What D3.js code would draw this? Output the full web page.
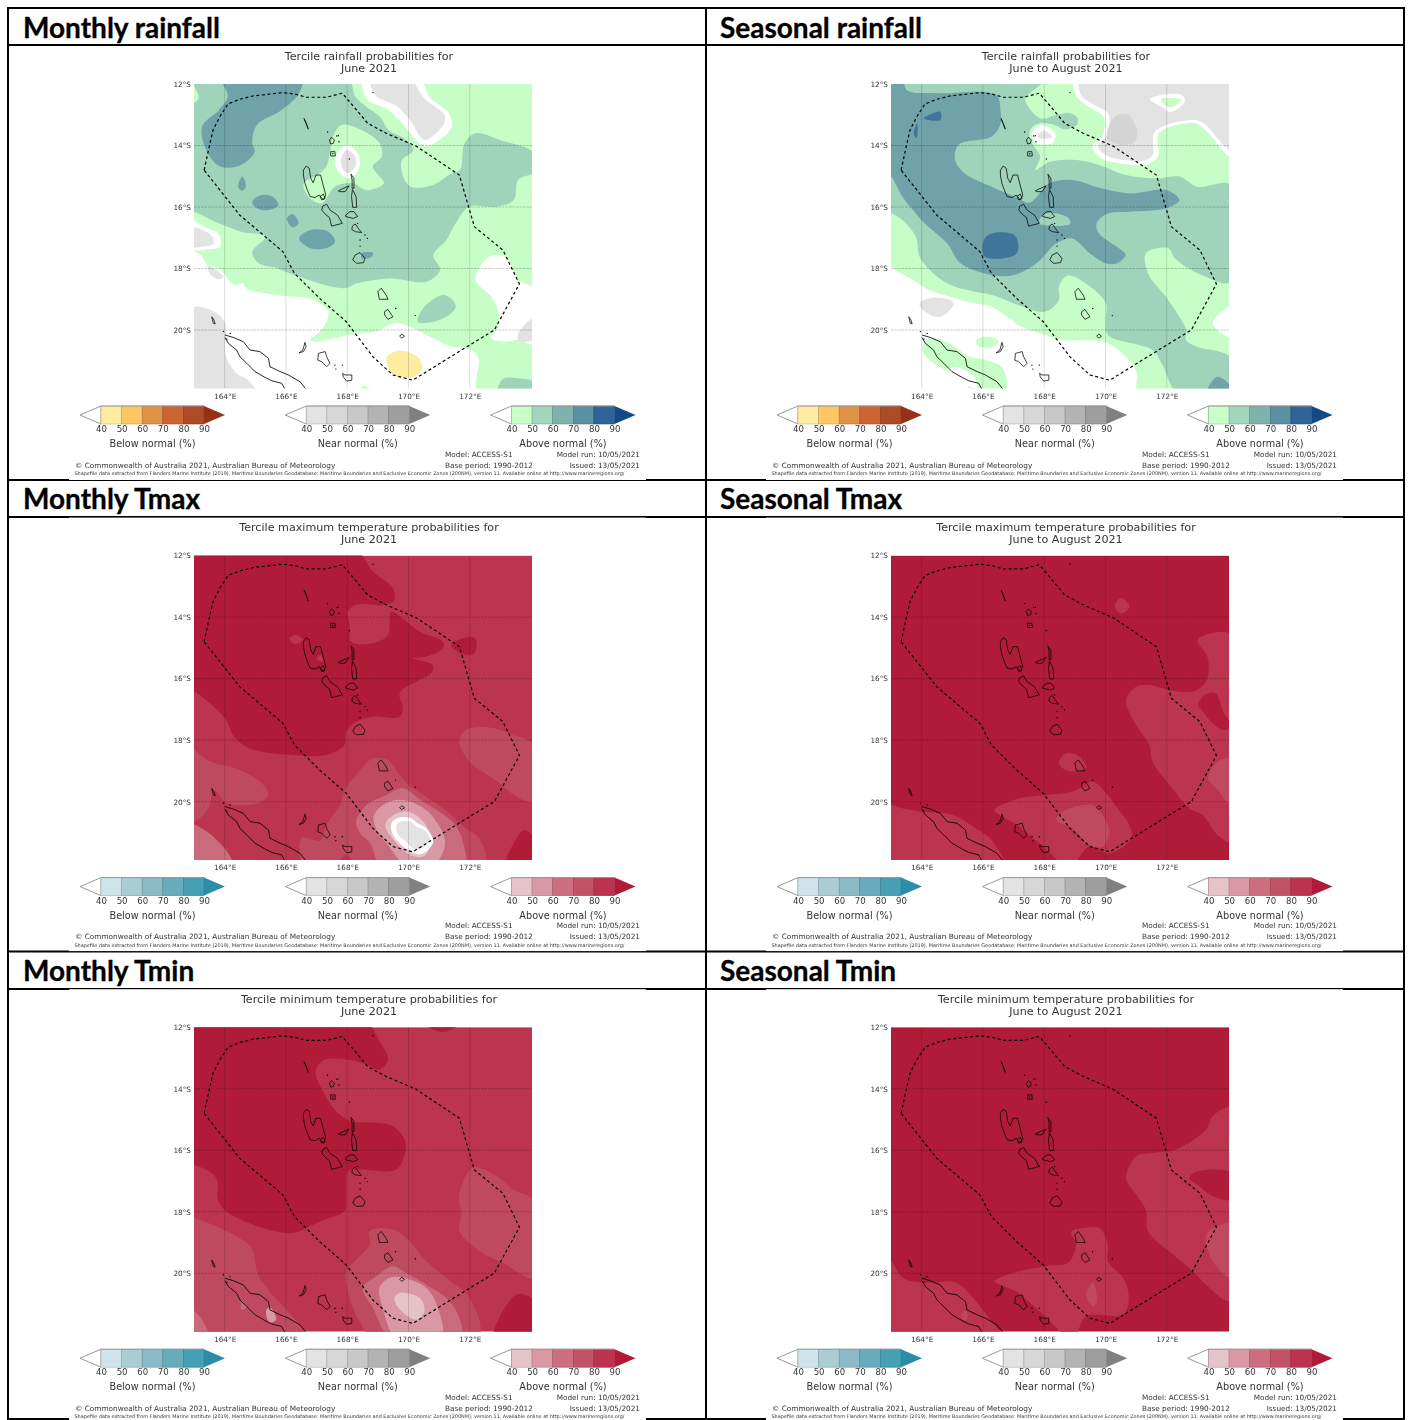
<!DOCTYPE html>
<html lang="en">
<head>
<meta charset="utf-8">
<title>Tercile probabilities for Vanuatu</title>
<script src="https://d3js.org/d3.v7.min.js"></script>
<style>
    body { margin: 0; background: #fff; }
    svg { display: block; }
    text { font-family: "DejaVu Sans", sans-serif; fill: #333; }
    .rowTitle { font-family: Lato, sans-serif; font-weight: 700; font-size: 28px; fill: #000; stroke: #000; stroke-width: 0.3px; }
    .panel { filter: blur(0.42px); }
    .axis text { font-size: 7.3px; fill: #333; }
    .cbarAxis text { font-size: 8.6px; fill: #333; }
</style>
</head>
<body>
<svg id="chart" width="1410" height="1420"></svg>
<script>
// ---- axis values
const lonTicks = [164, 166, 168, 170, 172];
const latTicks = [12, 14, 16, 18, 20];
const cbarTicks = [40, 50, 60, 70, 80, 90];

// ---- colour bar steps
const barBelowRain = ["#feeda0", "#fdc766", "#e09345", "#cc6433", "#ae4a26", "#953019"];
const barBelowTemp = ["#cfe4ea", "#a9cdd3", "#8bbac6", "#68abbc", "#45a0b4", "#2b8ea6"];
const barNear = ["#e3e3e3", "#d7d7d7", "#c8c8c8", "#b3b3b3", "#9e9e9e", "#808080"];
const barAboveRain = ["#c8fec8", "#a2d6bc", "#7fb2ad", "#5a90a2", "#2f6497", "#124a85"];
const barAboveTemp = ["#e6c2c9", "#da97a4", "#cd6e7f", "#c25266", "#bb334d", "#b01c38"];

// ---- map fill for each probability band
const bandColor = {
    none: "#ffffff", b40: "#fdeba0", n40: "#e3e3e3", n50: "#d4d4d4",
    a40: "#c7fdc7", a50: "#9fd3ba", a60: "#6fa3a9", a70: "#40769b",
    r40: "#e6c2c9", r50: "#da97a4", r60: "#c96b7c", r70: "#bf4a60", r80: "#bb354e", r90: "#b01c38"
};

// ---- contour regions: [band, [[lon, lat south], ...]], painted in order
const monthlyRain = [
    ["a40", [[162.9,11.9],[174.1,11.9],[174.1,22],[172.27,22],[172.27,20.87],[171.83,20.56],[171.39,20.54],[170.81,20.27],[169.64,19.78],[168.91,20.05],[168.04,20.16],[167.02,20.38],[166.8,20.32],[167.16,20],[167.38,19.4],[166.87,19.02],[165.71,18.86],[164.69,18.64],[164.61,18.48],[164.32,18.54],[163.81,17.99],[163.45,17.89],[163.23,17.56],[163,17.45],[162.9,17.45]]],
    ["a40", [[168.33,22],[168.55,21.82],[168.84,22]]],
    ["a50", [[162.9,12.74],[163.15,12.47],[163.03,11.9],[168.04,11.9],[168.26,12.41],[168.62,12.74],[169.06,13.06],[169.35,13.5],[169.86,13.77],[170.15,14.15],[169.79,14.47],[169.79,14.91],[170.08,15.34],[170.81,15.28],[171.39,14.91],[171.68,14.8],[171.83,13.93],[172.19,13.6],[172.99,13.82],[174.1,14.25],[174.1,14.85],[173.58,15.12],[173.43,15.77],[172.85,15.99],[171.97,15.99],[171.54,16.53],[171.24,17.07],[170.81,17.56],[171.03,18.05],[170.59,18.43],[169.35,18.32],[168.33,18.48],[167.89,18.64],[166.43,18.27],[165.71,17.99],[165.12,17.83],[164.9,17.45],[165.34,16.96],[164.54,16.8],[163.81,16.53],[163,16.15],[162.9,16.15]]],
    ["a50", [[170.3,19.73],[170.52,19.24],[171.17,18.86],[171.54,19.19],[171.39,19.46],[170.81,19.73]]],
    ["a50", [[172.92,22.1],[173.07,21.6],[173.58,21.57],[174.1,21.7],[174.1,22.1]]],
    ["a40", [[167.82,13.33],[168.48,13.5],[169.06,13.93],[169.13,14.36],[168.84,14.69],[169.2,15.23],[168.62,15.45],[168.18,15.23],[167.6,15.34],[167.16,15.88],[166.73,15.66],[166.58,15.23],[167.02,14.96],[167.31,14.69],[167.45,14.15],[167.53,13.71]]],
    ["none", [[168.01,13.98],[168.37,14.31],[168.37,14.8],[168.04,15.07],[167.64,14.74],[167.64,14.31]]],
    ["n40", [[167.99,14.15],[168.26,14.36],[168.26,14.69],[168.01,14.9],[167.82,14.69],[167.82,14.36]]],
    ["none", [[168.55,11.8],[168.62,12.47],[169.35,12.85],[169.79,13.28],[170.44,13.98],[170.73,13.98],[171.39,13.44],[171.32,12.95],[170.73,12.47],[170.3,11.8]]],
    ["n40", [[168.77,11.8],[168.91,12.36],[169.64,12.74],[170.08,13.22],[170.52,13.82],[171.17,13.28],[171.17,13],[170.52,12.47],[170,11.8]]],
    ["none", [[162.9,16.45],[163.37,16.66],[163.81,16.9],[163.85,17.29],[163.37,17.38],[162.9,17.38]]],
    ["n40", [[162.9,16.68],[163.4,16.8],[163.62,17],[163.62,17.2],[163.3,17.28],[162.9,17.28]]],
    ["n40", [[163.45,17.9],[163.96,18.27],[163.8,18.35],[163.5,18.15]]],
    ["none", [[174.1,18.65],[173.58,18.37],[173.21,17.67],[172.78,17.56],[172.41,17.83],[172.19,18.37],[172.7,18.92],[172.92,19.35],[172.92,19.89],[172.7,20.27],[173.14,20.38],[173.58,20.32],[174.1,20.45]]],
    ["n40", [[174.1,19.6],[173.58,20.11],[173.58,20.32],[174.1,20.32]]],
    ["n40", [[162.9,19.3],[163.5,19.33],[164,19.73],[164.03,20.81],[164.4,21.41],[164.77,21.63],[165.05,22.1],[162.9,22.1]]],
    ["a60", [[163.93,11.8],[166.51,11.8],[166.43,12.3],[165.85,12.85],[165.05,13.33],[164.9,13.93],[164.98,14.2],[164.54,14.63],[163.88,14.69],[163.45,14.25],[163.26,13.39],[163.81,12.85],[164.1,12.41]]],
    ["a60", [[164.44,15.34],[164.58,15.01],[164.69,15.34],[164.57,15.47]]],
    ["a60", [[164.9,15.83],[165.2,15.61],[165.56,15.66],[165.75,15.93],[165.41,16.1],[165.05,16.04]]],
    ["a60", [[166.03,16.37],[166.22,16.23],[166.41,16.53],[166.22,16.66]]],
    ["a60", [[166.43,17.02],[166.8,16.75],[167.38,16.8],[167.6,17.13],[167.31,17.34],[166.8,17.34]]],
    ["a60", [[168.48,17.51],[168.84,17.49],[168.8,17.62],[168.48,17.67]]],
    ["b40", [[169.28,20.92],[169.64,20.67],[170.3,20.87],[170.44,21.25],[170.15,21.52],[169.5,21.46]]]
];

const seasonalRain = [
    ["a40", [[162.9,11.8],[174.1,11.8],[174.1,22.1],[171.07,22.1],[171.03,21.41],[170.81,21.03],[170.08,20.43],[169.35,20.33],[168.62,20.33],[168.04,20.16],[167.16,19.84],[166.87,19.62],[166.29,19.24],[165.71,19.13],[165.12,18.97],[164.25,18.7],[163.81,18.43],[163.23,18.1],[163,17.94],[162.9,17.9]]],
    ["a40", [[164.01,20.6],[164.32,20.27],[164.9,20.43],[165.56,20.87],[166.14,20.98],[166.65,21.25],[166.73,22.1],[165.78,22.1],[165.27,21.57],[164.39,21.08]]],
    ["none", [[164.83,21.3],[165.12,21.21],[165.71,21.52],[165.78,21.9]]],
    ["a40", [[165.78,20.33],[166.29,20.22],[166.51,20.38],[166.29,20.56],[165.85,20.52]]],
    ["a50", [[162.9,11.8],[168.04,11.8],[167.38,12.47],[167.48,12.74],[167.89,13.12],[168.48,12.98],[168.84,12.95],[169.09,13.12],[169.06,13.33],[168.69,13.47],[168.33,13.33],[167.89,13.27],[167.57,13.44],[167.53,13.77],[167.68,14.04],[167.87,14.36],[167.71,14.8],[168.18,14.53],[169.06,14.47],[169.79,14.63],[170.66,14.96],[171.68,15.07],[172.41,15.01],[172.99,15.34],[174.1,15.28],[174.1,18.43],[173.14,18.21],[172.27,17.67],[172.05,17.34],[171.32,17.51],[171.39,18.16],[171.97,18.92],[172.41,19.57],[172.63,20],[172.63,20.33],[172.99,20.54],[174.1,20.9],[174.1,22.1],[172.41,22.1],[171.83,21.08],[171.54,20.65],[170.08,20.16],[170.01,19.67],[170.01,19.13],[169.35,18.48],[168.77,18.23],[168.48,18.59],[168.48,19.02],[168.04,19.4],[167.31,19.24],[166.29,18.86],[165.71,18.75],[164.83,18.48],[163.96,17.67],[163.81,16.96],[163.37,16.42],[163,16.2],[162.9,16.2]]],
    ["a60", [[162.9,11.8],[163.37,11.8],[163.52,12.2],[164.54,12.3],[166.43,12.36],[166.58,12.95],[166.58,13.28],[166.29,13.71],[165.2,13.98],[165.09,14.47],[165.41,14.91],[166.29,15.34],[167.16,15.72],[167.53,15.86],[168.18,15.23],[168.91,15.12],[169.86,15.39],[170.81,15.56],[171.97,15.45],[172.41,15.77],[171.97,16.04],[170.81,16.15],[170.08,16.21],[169.71,16.53],[169.79,16.86],[170.52,17.4],[170.66,17.56],[170.37,17.83],[170.01,17.83],[169.5,17.51],[168.91,17.02],[168.4,17.18],[167.75,17.83],[167.02,18.21],[166.29,18.21],[165.27,17.83],[164.83,17.18],[164.1,16.53],[163.37,15.66],[163,15.01],[162.9,15.01]]],
    ["a50", [[167.82,16.53],[168.04,16.21],[168.77,16.34],[168.84,16.55]]],
    ["a70", [[166.03,17.07],[166.29,16.86],[167.02,16.91],[167.16,17.29],[167.05,17.56],[166.07,17.62]]],
    ["a70", [[164.07,13.12],[164.61,12.9],[164.61,13.17]]],
    ["a70", [[163.74,13.6],[163.86,13.28],[163.84,13.77]]],
    ["a60", [[173.29,22.1],[173.65,21.52],[174.1,21.85],[174.1,22.1]]],
    ["none", [[167.6,13.6],[167.89,13.33],[168.36,13.6],[168.26,13.93],[167.72,13.91]]],
    ["n40", [[167.78,13.69],[168,13.52],[168.26,13.73],[167.89,13.77]]],
    ["none", [[168.99,11.8],[169.06,12.41],[169.52,12.79],[169.93,13.06],[169.93,13.6],[169.57,14.04],[169.86,14.42],[170.37,14.56],[171.32,14.63],[171.71,14.36],[171.75,13.6],[172.92,13.28],[173.36,13.6],[174.1,14.36],[174.1,11.8]]],
    ["n40", [[169.2,11.8],[169.2,12.36],[169.64,12.68],[170.08,12.95],[170.08,13.6],[169.76,14.04],[170,14.31],[170.44,14.45],[171.27,14.49],[171.54,14.31],[171.61,13.55],[172.85,13.17],[173.21,13.28],[174.1,14.15],[174.1,11.8]]],
    ["none", [[171.46,12.5],[171.83,12.36],[172.48,12.36],[172.59,12.57],[172.12,12.91],[171.83,12.74]]],
    ["a40", [[171.8,12.5],[172.48,12.5],[172.12,12.76]]],
    ["n50", [[170.05,13.77],[170.3,13.06],[170.73,13],[171.03,13.5],[170.95,13.88],[170.52,13.98]]],
    ["n50", [[173.36,11.9],[173.58,12.01],[173.87,11.9]]],
    ["n40", [[163.93,19.13],[164.4,18.94],[165.05,19.11],[164.62,19.57],[164.1,19.4]]],
    ["none", [[174.2,19.2],[173.5,19.73],[173.65,20],[174.2,20.27]]]
];

const monthlyTmax = [
    ["r90", [[162.9,11.8],[168.24,11.8],[168.84,12.52],[169.49,13.06],[169.54,13.44],[169.27,13.6],[168.29,13.6],[168.02,13.82],[168.08,14.25],[168.13,14.8],[168.84,14.85],[169.33,14.58],[169.43,13.82],[169.87,14.09],[170.36,14.47],[171.12,14.8],[171.12,15.01],[170.58,15.28],[170.14,15.34],[170.79,15.56],[170.74,15.83],[170.36,16.04],[169.71,16.48],[169.82,16.96],[169.71,17.24],[168.84,17.24],[168.29,17.4],[167.97,17.72],[167.91,18.16],[167.32,18.48],[166.23,18.48],[164.82,18.27],[164.27,17.83],[164.05,17.34],[163,16.42],[162.9,16.42]]],
    ["r80", [[166.12,14.69],[166.34,14.58],[166.55,14.75],[166.27,14.87]]],
    ["r80", [[166.99,15.34],[167.15,15.23],[167.21,15.45]]],
    ["r90", [[171.39,14.91],[171.83,14.67],[172.18,14.69],[172.15,15.18],[171.71,15.18]]],
    ["r90", [[173.18,22.1],[173.4,21.41],[173.78,20.92],[174.1,21.2],[174.1,22.1]]],
    ["r70", [[162.9,18.25],[163,18.31],[163.52,18.69],[164.5,18.97],[165.21,19.4],[165.43,19.78],[165.1,20.05],[164.07,20.05],[163.69,19.67],[163.41,20.32],[163,20.65],[162.9,20.65]]],
    ["r60", [[162.9,20.75],[163.41,20.97],[163.85,21.35],[164.12,21.68],[164.28,22.1],[162.9,22.1]]],
    ["r70", [[166.62,22.1],[166.52,21.19],[167.11,21.26],[167.35,20.7],[167.77,20.1],[167.93,19.62],[168.53,18.86],[168.8,18.61],[169.29,18.62],[169.67,19.07],[169.94,19.4],[170.49,19.78],[171.25,20.32],[171.79,20.81],[172.34,21.24],[172.45,22.1]]],
    ["r80", [[167.71,22.1],[167.93,21.73],[168.31,22.1]]],
    ["r60", [[168.29,20.65],[168.64,20.1],[169.29,19.78],[169.83,19.56],[170.38,19.94],[170.92,20.27],[171.52,20.75],[171.79,21.35],[171.81,22.1],[169.13,22.1],[168.75,21.35],[168.42,21.03]]],
    ["r50", [[168.86,20.48],[169.18,20.1],[169.73,19.94],[170.49,20.21],[170.98,20.75],[171.19,21.24],[171.09,21.73],[170.76,22.1],[169.94,22.1],[169.29,21.35],[168.96,20.92]]],
    ["r40", [[169.24,20.75],[169.51,20.43],[169.94,20.32],[170.38,20.54],[170.76,21.13],[170.76,21.35],[170.49,21.78],[170.05,21.73],[169.51,21.24]]],
    ["none", [[169.43,20.75],[169.62,20.54],[170.05,20.52],[170.32,20.72],[170.54,20.83],[170.81,21.3],[170.43,21.7],[170.14,21.65],[169.56,21.19]]],
    ["n40", [[169.64,20.7],[170.07,20.65],[170.29,20.83],[170.49,20.9],[170.7,21.24],[170.27,21.55],[169.83,21.22],[169.64,21.05]]],
    ["r70", [[171.66,18.05],[171.88,17.67],[172.64,17.59],[173.4,17.83],[174.1,18.16],[174.1,20],[173.62,19.89],[172.75,19.24],[171.99,18.7]]]
];

const monthlyTmin = [
    ["r90", [[162.9,11.8],[168.57,11.8],[169.05,12.46],[169.33,13.05],[169.05,13.38],[168.6,13.2],[167.97,13.05],[167.21,13.08],[166.97,13.43],[167.21,14.08],[167.64,14.73],[168.13,15.06],[168.95,15.11],[169.49,15.22],[169.87,15.65],[169.9,16.03],[169.6,16.63],[168.4,16.63],[168.02,16.68],[167.97,17.33],[167.91,17.98],[167.42,18.2],[166.88,18.42],[166.23,18.69],[165.25,18.53],[164.05,17.98],[163.78,17.6],[163.73,16.9],[163,16.47],[162.9,16.47]]],
    ["r90", [[170.36,11.8],[171.12,12.15],[171.83,11.8]]],
    ["r90", [[172.8,22.1],[173.29,20.91],[173.62,20.67],[174.1,20.91],[174.1,22.1]]],
    ["r70", [[162.9,18.2],[163,18.2],[164.05,18.63],[164.87,19.18],[165.09,20.04],[165.47,20.59],[165.96,21.13],[166.55,21.83],[166.6,22.1],[162.9,22.1]]],
    ["r60", [[162.9,21.18],[163.29,21.56],[163.46,22.1],[162.9,22.1]]],
    ["r50", [[165.35,21.24],[165.47,21.1],[165.68,21.5],[165.47,21.6]]],
    ["r60", [[164.55,20.96],[164.72,21.1],[164.55,21.18]]],
    ["r50", [[166,22.1],[166.34,21.89],[166.55,22.1]]],
    ["r70", [[168.84,22.1],[168.4,21.56],[168.02,20.59],[167.97,19.93],[168.29,19.56],[168.73,19.07],[168.73,18.63],[169.49,18.58],[170.14,19.07],[170.47,19.5],[171.23,20.15],[171.99,20.8],[172.29,22.1]]],
    ["r60", [[168.51,20.48],[168.95,20.1],[169.49,19.77],[169.92,19.99],[170.58,20.37],[171.23,20.8],[171.61,21.34],[171.72,22.1],[169.43,22.1],[168.84,21.13]]],
    ["r50", [[169.05,20.48],[169.38,20.15],[169.82,20.15],[170.58,20.48],[170.96,21.13],[171.07,22.1],[169.6,22.1],[169.16,21.13]]],
    ["r40", [[169.54,20.8],[169.71,20.64],[170.36,20.8],[170.52,21.24],[170.25,21.51],[169.71,21.18]]],
    ["r70", [[171.66,17.44],[172.1,16.57],[172.97,16.9],[173.4,17.28],[174.1,17.66],[174.1,20.15],[173.18,19.72],[172.32,19.28],[171.66,18.63],[171.72,18.09]]]
];

const seasonalTmax = [
    ["r80", [[170.33,13.55],[170.52,13.37],[170.78,13.66],[170.52,13.88],[170.35,13.77]]],
    ["r80", [[170.67,16.69],[171,16.26],[171.43,16.21],[172.09,16.37],[172.85,16.42],[173.28,16.1],[173.34,15.34],[173.01,14.74],[173.66,14.49],[174.1,14.6],[174.1,21.3],[173.66,21.08],[173.17,20.43],[172.74,20.22],[172.09,19.46],[171.54,18.7],[171.43,18.16],[171,17.51]]],
    ["r90", [[173.03,16.86],[173.23,16.53],[173.61,16.48],[173.83,17.07],[174.1,17.56],[173.83,17.67],[173.5,17.45],[173.17,17.07]]],
    ["r70", [[173.34,19.24],[173.66,18.7],[174.1,18.6],[174.1,20.1],[173.66,19.62]]],
    ["r80", [[166.38,20.27],[167.2,19.89],[168.07,19.78],[168.93,19.67],[169.59,19.35],[170.02,19.73],[170.4,20.22],[170.78,20.76],[170.84,21.19],[170.13,21.68],[169.48,21.46],[168.83,22.1],[167.85,21.36],[167.03,20.7],[166.54,20.43]]],
    ["r70", [[168.39,20.6],[168.61,20.33],[169.59,20.11],[169.97,20.54],[170.13,20.98],[169.91,21.46],[169.48,21.41],[168.93,20.87]]],
    ["r80", [[168.48,18.7],[168.72,18.43],[169.15,18.54],[169.37,18.92],[168.93,19.02],[168.61,18.92]]],
    ["r80", [[162.9,20.1],[163,20.11],[163.39,20.22],[164.04,20.33],[165.02,20.43],[165.78,20.87],[166.33,21.3],[166.65,22.1],[162.9,22.1]]],
    ["r70", [[166.11,22.1],[166.33,21.9],[166.6,22.1]]]
];

const seasonalTmin = [
    ["r80", [[170.67,16.9],[171,16.2],[171.54,16.09],[172.3,15.98],[173.28,15.33],[173.5,14.89],[174.01,14.57],[174.1,14.55],[174.1,20.9],[173.28,20.37],[172.85,19.93],[172.2,19.39],[171.38,18.63],[171.33,17.98],[171,17.44]]],
    ["r90", [[172.74,16.9],[172.96,16.7],[174.1,16.75],[174.1,17.6],[173.5,17.5],[173.07,17.17]]],
    ["r70", [[173.28,18.74],[173.66,18.47],[174.1,18.4],[174.1,20.15],[173.5,19.61]]],
    ["r80", [[166.38,20.26],[167.2,19.93],[168.07,19.77],[168.77,19.66],[169.04,19.07],[168.88,18.66],[169.26,18.53],[169.8,18.53],[170.08,19.07],[170.08,19.61],[170.57,20.15],[170.76,20.8],[170.57,21.34],[169.37,21.4],[168.93,22.1],[167.85,21.24],[167.09,20.59],[166.54,20.37]]],
    ["r70", [[169.37,20.69],[169.59,20.31],[169.72,20.91],[169.59,21.07]]],
    ["r80", [[162.9,19.6],[163,19.61],[163.39,20.15],[164.04,20.31],[165.13,20.31],[165.67,20.8],[166.27,21.56],[166.65,22.1],[162.9,22.1]]],
    ["r70", [[165.35,21.24],[165.47,21.24],[165.47,21.5],[165.35,21.5]]]
];

// ---- Vanuatu EEZ boundary
const eezLine = [[163.33,14.8],[163.51,13.98],[163.62,13.5],[163.85,13.05],[164.11,12.65],[164.48,12.5],[164.92,12.39],[165.9,12.28],[166.3,12.33],[166.66,12.43],[167.32,12.43],[167.84,12.3],[168.25,12.78],[168.67,13.28],[169.27,13.6],[170.25,14.02],[171.66,14.96],[172.15,16.64],[173.08,17.4],[173.62,18.5],[172.8,20],[171.99,20.49],[170.14,21.63],[169.49,21.46],[168.84,20.87],[167.97,19.73],[167.1,18.97],[166.28,18.16],[165.9,17.45],[164.49,16.26],[163.33,14.8]];

// ---- island outlines
const islands = [
    [[166.59,13.12],[166.66,13.28],[166.73,13.47],[166.66,13.28]],
    [[167.42,13.82],[167.49,13.73],[167.58,13.82],[167.55,13.93],[167.46,13.95]],
    [[167.46,14.2],[167.6,14.2],[167.61,14.34],[167.46,14.34]],
    [[166.57,14.8],[166.66,14.67],[166.76,14.74],[166.81,15.07],[166.89,15.21],[166.98,14.96],[167.13,14.96],[167.2,15.23],[167.3,15.61],[167.22,15.77],[167.09,15.61],[166.95,15.69],[166.79,15.66],[166.7,15.45],[166.62,15.23],[166.57,14.96]],
    [[167.11,15.66],[167.22,15.58],[167.28,15.72],[167.17,15.77]],
    [[167.71,15.47],[168.06,15.31],[167.93,15.5],[167.74,15.5]],
    [[168.12,14.93],[168.22,15.07],[168.22,15.39],[168.16,15.39],[168.16,15.12]],
    [[168.17,15.43],[168.29,15.66],[168.31,16.01],[168.18,16.01],[168.14,15.66]],
    [[167.2,15.97],[167.33,15.91],[167.44,16.1],[167.68,16.26],[167.84,16.53],[167.49,16.62],[167.42,16.34],[167.28,16.23],[167.17,16.1]],
    [[167.95,16.26],[168.09,16.15],[168.22,16.15],[168.34,16.31],[168.2,16.37],[167.95,16.31]],
    [[168.17,16.62],[168.26,16.55],[168.36,16.69],[168.47,16.83],[168.26,16.8],[168.15,16.73]],
    [[168.18,17.72],[168.26,17.56],[168.42,17.48],[168.58,17.67],[168.53,17.81],[168.31,17.83]],
    [[169,18.75],[169.11,18.64],[169.27,18.86],[169.33,19],[169.05,19]],
    [[169.22,19.4],[169.33,19.33],[169.49,19.57],[169.33,19.65],[169.22,19.51]],
    [[169.71,20.2],[169.78,20.13],[169.87,20.2],[169.78,20.26]],
    [[163.58,19.57],[163.65,19.67],[163.69,19.8],[163.63,19.78]],
    [[166.62,20.4],[166.66,20.54],[166.57,20.7],[166.43,20.74],[166.55,20.65],[166.59,20.52]],
    [[167.06,20.76],[167.28,20.7],[167.33,20.87],[167.44,21.08],[167.33,21.19],[167.17,21.03],[167.04,20.98]],
    [[167.85,21.41],[167.93,21.46],[168.15,21.46],[168.15,21.63],[167.98,21.66],[167.87,21.52]]
];
// New Caledonia runs off the bottom of the map, so these two stay open
const openCoasts = [
    [[164.01,20.16],[164.28,20.24],[164.61,20.38],[164.83,20.65],[165.15,20.7],[165.43,20.92],[165.48,21.19],[165.81,21.35],[166.08,21.46],[166.46,21.68],[166.66,21.93]],
    [[164.01,20.24],[164.12,20.43],[164.39,20.65],[164.5,20.87],[164.72,21.08],[164.99,21.35],[165.32,21.54],[165.54,21.65],[165.86,21.73],[165.97,21.93]]
];
const islets = [[168.84,12.28],[167.36,13.56],[167.71,13.68],[167.66,13.69],[167.73,13.88],[167.53,14.27],[168.07,14.44],[168.34,16.53],[168.58,16.91],[168.66,17.02],[168.42,17.07],[168.42,17.27],[169.58,19.3],[170.22,19.53],[163.96,20.05],[164.18,20.11],[164.07,20.3],[167.6,21.14],[167.63,21.27],[167.84,21.14]];

// ---- texts
const shapeNote = "Shapefile data extracted from Flanders Marine Institute (2019), Maritime Boundaries Geodatabase: Maritime Boundaries and Exclusive Economic Zones (200NM), version 11. Available online at http://www.marineregions.org/";
const copyNote = "\u00a9 Commonwealth of Australia 2021, Australian Bureau of Meteorology";

const panels = [
    { title: "Monthly rainfall", line1: "Tercile rainfall probabilities for", line2: "June 2021", regions: monthlyRain, base: "none", col: 0, row: 0, below: barBelowRain, above: barAboveRain },
    { title: "Seasonal rainfall", line1: "Tercile rainfall probabilities for", line2: "June to August 2021", regions: seasonalRain, base: "none", col: 1, row: 0, below: barBelowRain, above: barAboveRain },
    { title: "Monthly Tmax", line1: "Tercile maximum temperature probabilities for", line2: "June 2021", regions: monthlyTmax, base: "r80", col: 0, row: 1, below: barBelowTemp, above: barAboveTemp },
    { title: "Seasonal Tmax", line1: "Tercile maximum temperature probabilities for", line2: "June to August 2021", regions: seasonalTmax, base: "r90", col: 1, row: 1, below: barBelowTemp, above: barAboveTemp },
    { title: "Monthly Tmin", line1: "Tercile minimum temperature probabilities for", line2: "June 2021", regions: monthlyTmin, base: "r80", col: 0, row: 2, below: barBelowTemp, above: barAboveTemp },
    { title: "Seasonal Tmin", line1: "Tercile minimum temperature probabilities for", line2: "June to August 2021", regions: seasonalTmin, base: "r90", col: 1, row: 2, below: barBelowTemp, above: barAboveTemp }
];

// ---- layout
const colStep = 697, rowStep = 471.6;
const mapW = 338, mapH = 304.5;
const svg = d3.select("#chart");

const x = d3.scaleLinear().domain([163, 174.03]).range([0, mapW]);
const y = d3.scaleLinear().domain([12, 21.9]).range([0, mapH]);

const area = d3.line().x(d => x(d[0])).y(d => y(d[1])).curve(d3.curveCatmullRomClosed.alpha(0.5));
const eez = d3.line().x(d => x(d[0])).y(d => y(d[1]));
const coast = d3.line().x(d => x(d[0])).y(d => y(d[1])).curve(d3.curveLinearClosed);
const coastOpen = d3.line().x(d => x(d[0])).y(d => y(d[1]));

// table frame first, the pasted map images sit on top and shave the lines
const frame = svg.append("g").attr("stroke", "#000").attr("stroke-width", 2);
[8, 45, 480, 517, 951.5, 989, 1419].forEach(v => {
    frame.append("line").attr("x1", 7).attr("x2", 1405).attr("y1", v).attr("y2", v);
});
[8, 706, 1404].forEach(v => {
    frame.append("line").attr("x1", v).attr("x2", v).attr("y1", 7).attr("y2", 1420);
});

svg.append("defs").append("clipPath").attr("id", "mapClip")
    .append("rect").attr("width", mapW).attr("height", mapH);

panels.forEach(p => {
    const ox = p.col * colStep, oy = p.row * rowStep;

    svg.append("text").attr("class", "rowTitle")
        .attr("x", 23 + ox).attr("y", 37.5 + oy).text(p.title);

    svg.append("rect").attr("x", 69 + ox).attr("width", 577)
        .attr("y", p.row === 0 ? 46 : 46 + oy).attr("height", p.row === 0 ? 434 : 433.5)
        .attr("fill", "#fff");

    const g = svg.append("g").attr("class", "panel").attr("transform", `translate(${ox},${oy})`);

    g.append("text").attr("x", 369).attr("y", 59.6).attr("text-anchor", "middle").attr("font-size", 11.15).text(p.line1);
    g.append("text").attr("x", 369).attr("y", 71.6).attr("text-anchor", "middle").attr("font-size", 11.15).text(p.line2);

    const map = g.append("g").attr("transform", "translate(194,84)");
    const inner = map.append("g").attr("clip-path", "url(#mapClip)");

    inner.append("rect").attr("width", mapW).attr("height", mapH).attr("fill", bandColor[p.base]);
    inner.selectAll("path.band").data(p.regions).join("path")
        .attr("class", "band")
        .attr("d", d => area(d[1]))
        .attr("fill", d => bandColor[d[0]]);

    // grid
    inner.selectAll("line.lon").data(lonTicks).join("line").attr("class", "lon")
        .attr("x1", d => x(d)).attr("x2", d => x(d)).attr("y1", 0).attr("y2", mapH)
        .attr("stroke", "#000").attr("stroke-opacity", 0.2).attr("stroke-width", 0.7);
    inner.selectAll("line.lat").data(latTicks.slice(1)).join("line").attr("class", "lat")
        .attr("x1", 0).attr("x2", mapW).attr("y1", d => y(d)).attr("y2", d => y(d))
        .attr("stroke", "#000").attr("stroke-opacity", 0.3).attr("stroke-width", 0.7).attr("stroke-dasharray", "2.5,1");

    // coast
    inner.selectAll("path.isl").data(islands).join("path").attr("class", "isl")
        .attr("d", coast).attr("fill", "none").attr("stroke", "#000").attr("stroke-width", 0.75);
    inner.selectAll("path.ncl").data(openCoasts).join("path").attr("class", "ncl")
        .attr("d", coastOpen).attr("fill", "none").attr("stroke", "#000").attr("stroke-width", 0.85);
    inner.selectAll("circle.islet").data(islets).join("circle").attr("class", "islet")
        .attr("cx", d => x(d[0])).attr("cy", d => y(d[1])).attr("r", 0.7).attr("fill", "#000");

    inner.append("path").attr("d", eez(eezLine)).attr("fill", "none")
        .attr("stroke", "#000").attr("stroke-width", 1.2).attr("stroke-dasharray", "3,2.6");

    // axes, no tick marks on the originals
    const axB = map.append("g").attr("class", "axis").attr("transform", `translate(0,${mapH + 2})`)
        .call(d3.axisBottom(x).tickValues(lonTicks).tickSize(0).tickFormat(d => d + "\u00b0E"));
    axB.select(".domain").remove();
    const axL = map.append("g").attr("class", "axis").attr("transform", "translate(0,0)")
        .call(d3.axisLeft(y).tickValues(latTicks).tickSize(0).tickFormat(d => d + "\u00b0S"));
    axL.select(".domain").remove();

    // colour bars
    [
        { label: "Below normal (%)", steps: p.below, left: 101 },
        { label: "Near normal (%)", steps: barNear, left: 306.3 },
        { label: "Above normal (%)", steps: p.above, left: 511.5 }
    ].forEach(b => {
        const cx = d3.scaleLinear().domain([40, 90]).range([0, 103]);
        const top = 406, h = 18;
        const bar = g.append("g").attr("transform", `translate(${b.left},${top})`);
        bar.append("path")
            .attr("d", d3.line()([[cx(40), 0], [cx(40) - 21, h / 2], [cx(40), h]]) + "Z")
            .attr("fill", "#fff").attr("stroke", "#999").attr("stroke-width", 1);
        bar.selectAll("rect").data(b.steps.slice(0, 5)).join("rect")
            .attr("x", (d, i) => cx(cbarTicks[i])).attr("width", (d, i) => cx(cbarTicks[i + 1]) - cx(cbarTicks[i]))
            .attr("y", 0).attr("height", h).attr("fill", d => d)
            .attr("stroke", d => d3.color(d).darker(0.7)).attr("stroke-width", 0.6);
        bar.append("path")
            .attr("d", d3.line()([[cx(90), 0], [cx(90) + 21, h / 2], [cx(90), h]]) + "Z")
            .attr("fill", b.steps[5]);
        bar.append("line").attr("x1", cx(40)).attr("x2", cx(90)).attr("y1", 0).attr("y2", 0)
            .attr("stroke", "#999").attr("stroke-width", 1);
        const ax = bar.append("g").attr("class", "cbarAxis").attr("transform", `translate(0,${h + 1})`)
            .call(d3.axisBottom(cx).tickValues(cbarTicks).tickSize(0).tickPadding(1));
        ax.select(".domain").remove();
        bar.append("text").attr("x", cx(65)).attr("y", 41).attr("text-anchor", "middle")
            .attr("font-size", 9.7).text(b.label);
    });

    // model notes
    g.append("text").attr("x", 445).attr("y", 456.5).attr("font-size", 7.3).text("Model: ACCESS-S1");
    g.append("text").attr("x", 445).attr("y", 467.8).attr("font-size", 7.3).text("Base period: 1990-2012");
    g.append("text").attr("x", 640).attr("y", 456.5).attr("font-size", 7.3).attr("text-anchor", "end").text("Model run: 10/05/2021");
    g.append("text").attr("x", 640).attr("y", 467.8).attr("font-size", 7.3).attr("text-anchor", "end").text("Issued: 13/05/2021");
    g.append("text").attr("x", 75).attr("y", 467.8).attr("font-size", 7.35).text(copyNote);
    g.append("text").attr("x", 74.5).attr("y", 475.2).attr("font-size", 4.93).text(shapeNote);
});
</script>
</body>
</html>
